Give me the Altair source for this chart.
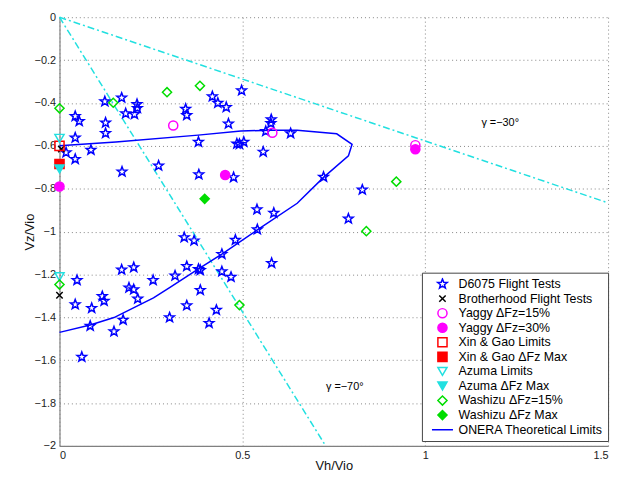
import altair as alt
import pandas as pd
import numpy as np

# ---------------- data ----------------
d6075_vh = [0.124, 0.170, 0.212, 0.213, 0.181, 0.205, 0.043, 0.054, 0.126, 0.126,
            0.043, 0.018, 0.043, 0.086, 0.171, 0.271, 0.345, 0.348, 0.418, 0.433,
            0.456, 0.498, 0.462, 0.380, 0.381, 0.476, 0.485, 0.492, 0.504, 0.557,
            0.579, 0.578, 0.564, 0.632, 0.722, 0.828, 0.790, 0.540, 0.586, 0.541,
            0.580, 0.341, 0.368, 0.481, 0.444, 0.348, 0.380, 0.385, 0.444, 0.469,
            0.170, 0.203, 0.256, 0.316, 0.048, 0.190, 0.203, 0.214, 0.117, 0.122,
            0.385, 0.043, 0.088, 0.348, 0.429, 0.301, 0.174, 0.084, 0.149, 0.409,
            0.061]
d6075_vz = [-0.393, -0.376, -0.406, -0.424, -0.449, -0.453, -0.462, -0.485, -0.492, -0.541,
            -0.562, -0.631, -0.662, -0.619, -0.721, -0.693, -0.428, -0.457, -0.370, -0.400,
            -0.420, -0.342, -0.497, -0.582, -0.734, -0.747, -0.590, -0.592, -0.582, -0.628,
            -0.477, -0.495, -0.532, -0.542, -0.745, -0.805, -0.940, -0.897, -0.913, -0.990,
            -1.147, -1.027, -1.042, -1.039, -1.105, -1.162, -1.175, -1.180, -1.186, -1.212,
            -1.178, -1.167, -1.227, -1.206, -1.227, -1.262, -1.270, -1.313, -1.302, -1.324,
            -1.273, -1.340, -1.357, -1.345, -1.366, -1.401, -1.412, -1.440, -1.466, -1.427,
            -1.585]
brotherhood_vh = [0.005, 0.0]
brotherhood_vz = [-0.615, -1.297]
yaggy15_vh = [0.311, 0.582, 0.973]
yaggy15_vz = [-0.505, -0.539, -0.597]
yaggy30_vh = [0.0, 0.453, 0.973]
yaggy30_vz = [-0.790, -0.736, -0.616]
xingao_lim_vh = [0.0]
xingao_lim_vz = [-0.600]
xingao_max_vh = [0.0]
xingao_max_vz = [-0.685]
azuma_lim_vh = [0.0, 0.0]
azuma_lim_vz = [-0.565, -1.210]
azuma_max_vh = [0.0]
azuma_max_vz = [-0.708]
washizu15_vh = [0.0, 0.147, 0.294, 0.384, 0.492, 0.839, 0.921, 0.0]
washizu15_vz = [-0.425, -0.399, -0.350, -0.320, -1.343, -0.998, -0.767, -1.247]
washizu_max_vh = [0.397]
washizu_max_vz = [-0.847]

onera_vh = [0.0, 0.084, 0.149, 0.257, 0.300, 0.379, 0.444, 0.543, 0.650, 0.722,
            0.790, 0.800, 0.758, 0.650, 0.577, 0.496, 0.379, 0.154, 0.0]
onera_vz = [-1.470, -1.436, -1.401, -1.309, -1.262, -1.175, -1.105, -0.990, -0.868, -0.747,
            -0.647, -0.593, -0.544, -0.527, -0.527, -0.531, -0.550, -0.582, -0.600]

gamma_deg = [-30, -70]
annot_text = ["\u03b3 =\u221230\u00b0", "\u03b3 =\u221270\u00b0"]
annot_vh = [1.205, 0.780]
annot_vz = [-0.494, -1.727]

series_names = ["D6075 Flight Tests", "Brotherhood Flight Tests", "Yaggy \u0394Fz=15%",
                "Yaggy \u0394Fz=30%", "Xin & Gao Limits", "Xin & Gao \u0394Fz Max",
                "Azuma Limits", "Azuma \u0394Fz Max", "Washizu \u0394Fz=15%",
                "Washizu \u0394Fz Max", "ONERA Theoretical Limits"]

x_ticks = [0, 0.5, 1, 1.5]
y_ticks = [0, -0.2, -0.4, -0.6, -0.8, -1, -1.2, -1.4, -1.6, -1.8, -2]

# ---------------- styles ----------------
BLUE, BLACK, MAG, RED, CYAN, GREEN = "#0000ff", "#000000", "#ff00ff", "#ff0000", "#22e0e0", "#00dd00"


def star_path(r_out=1.1, r_in=0.46):
    p = []
    for k in range(10):
        ang = np.radians(-90 + 36 * k)
        r = r_out if k % 2 == 0 else r_in
        p.append(f"{r * np.cos(ang):.3f},{r * np.sin(ang):.3f}")
    return "M" + "L".join(p) + "Z"


STAR_PATH = star_path()
X_PATH = "M-0.7,-0.7L0.7,0.7M-0.7,0.7L0.7,-0.7"
LINE_PATH = "M-2.3,0H2.3"
shape_range = [STAR_PATH, X_PATH, "circle", "circle", "square", "square",
               "triangle-down", "triangle-down", "diamond", "diamond", LINE_PATH]
fill_range = ["transparent", "transparent", "transparent", MAG, "transparent", RED,
              "transparent", CYAN, "transparent", GREEN, "transparent"]
stroke_range = [BLUE, BLACK, MAG, MAG, RED, RED, CYAN, CYAN, GREEN, GREEN, BLUE]

# ---------------- tables ----------------
groups = [
    (d6075_vh, d6075_vz), (brotherhood_vh, brotherhood_vz), (yaggy15_vh, yaggy15_vz),
    (yaggy30_vh, yaggy30_vz), (xingao_lim_vh, xingao_lim_vz), (xingao_max_vh, xingao_max_vz),
    (azuma_lim_vh, azuma_lim_vz), (azuma_max_vh, azuma_max_vz),
    (washizu15_vh, washizu15_vz), (washizu_max_vh, washizu_max_vz),
]
rows = []
for name, (vh, vz) in zip(series_names, groups):
    for a, b in zip(vh, vz):
        rows.append({"vh": float(a), "vz": float(b), "series": name})
pts = pd.DataFrame(rows)

onera = pd.DataFrame({"vh": onera_vh, "vz": onera_vz, "i": list(range(len(onera_vh)))})

grows = []
for g in gamma_deg:
    t = float(np.tan(np.radians(g)))
    xe = float(min(1.5, 2.0 / abs(t)))
    grows.append({"vh": 0.0, "vz": 0.0, "g": str(g), "i": 0})
    grows.append({"vh": xe, "vz": t * xe, "g": str(g), "i": 1})
glines = pd.DataFrame(grows)

annot = pd.DataFrame({"vh": annot_vh, "vz": annot_vz, "t": annot_text})

# ---------------- chart ----------------
xscale = alt.Scale(domain=[0, 1.5], nice=False, zero=False)
yscale = alt.Scale(domain=[-2, 0], nice=False, zero=False)
xaxis = alt.Axis(title="Vh/Vio", values=x_ticks, format=".1~f", titleY=14)
yaxis = alt.Axis(title="Vz/Vio", values=y_ticks, format=".1~f", titleX=-30, titleBaseline="middle")


def X():
    return alt.X("vh:Q", scale=xscale, axis=xaxis)


def Y():
    return alt.Y("vz:Q", scale=yscale, axis=yaxis)


lines_gamma = alt.Chart(glines).mark_line(
    color=CYAN, strokeWidth=1.5, strokeDash=[7, 3, 2, 3]
).encode(x=X(), y=Y(), detail="g:N", order="i:Q")

line_onera = alt.Chart(onera).mark_line(color=BLUE, strokeWidth=1.5).encode(
    x=X(), y=Y(), order="i:Q")

leg = alt.Legend(title=None, labelExpr="datum.label + '\u00a0\u00a0'")
points = alt.Chart(pts).mark_point(size=85, strokeWidth=1.5, opacity=1, filled=True).encode(
    x=X(), y=Y(),
    shape=alt.Shape("series:N", scale=alt.Scale(domain=series_names, range=shape_range), legend=leg),
    fill=alt.Fill("series:N", scale=alt.Scale(domain=series_names, range=fill_range), legend=leg),
    stroke=alt.Stroke("series:N", scale=alt.Scale(domain=series_names, range=stroke_range), legend=leg),
)

texts = alt.Chart(annot).mark_text(font="Liberation Sans", fontSize=11, color="black").encode(
    x=X(), y=Y(), text="t:N")

chart = alt.layer(lines_gamma, line_onera, points, texts).properties(
    width=554, height=433,
    autosize=alt.AutoSizeParams(type="none"),
    padding={"left": 52, "top": 7, "right": 8, "bottom": 25},
).configure_view(stroke=None).configure_axis(
    domainColor="#808080", domainWidth=1.2,
    gridColor="#777777", gridDash=[1, 3], gridWidth=1, gridOpacity=0.9,
    ticks=False, labelPadding=4,
    labelFont="Liberation Sans", labelFontSize=11, labelColor="#222222",
    titleFont="Liberation Sans", titleFontSize=13, titleFontWeight="normal", titleColor="#111111",
).configure_legend(
    orient="none", legendX=366, legendY=258,
    padding=5, strokeColor="#444444", fillColor="white",
    labelFont="Liberation Sans", labelFontSize=12.5, labelColor="black",
    symbolSize=85, symbolStrokeWidth=1.5, symbolOffset=9.5, labelOffset=10,
    clipHeight=13, rowPadding=1.7, labelLimit=300,
)

chart.save("out.html", embed_options={"renderer": "svg", "actions": False})
